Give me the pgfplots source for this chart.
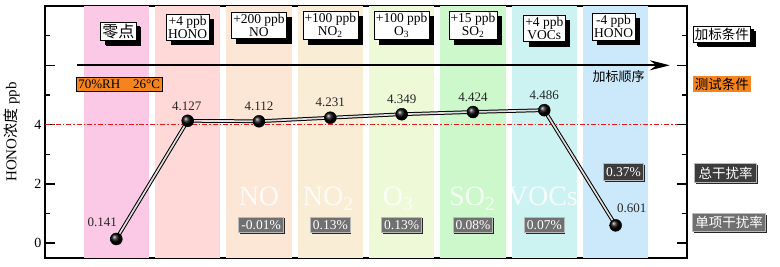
\documentclass[border=0pt]{standalone}
\usepackage{fontspec}
\setmainfont{Liberation Serif}
\newfontfamily\cjk{Noto Sans CJK SC}
\usepackage{pgfplots}
\pgfplotsset{compat=1.18}
\usepackage{pgfplotstable}
\usetikzlibrary{shadows,arrows.meta}

\definecolor{b0}{HTML}{FBC9E5}
\definecolor{b1}{HTML}{FFD8D8}
\definecolor{b2}{HTML}{FCE6D6}
\definecolor{b3}{HTML}{FAEDD5}
\definecolor{b4}{HTML}{EDF9D7}
\definecolor{b5}{HTML}{CCF8CC}
\definecolor{b6}{HTML}{CCF2F2}
\definecolor{b7}{HTML}{CCE9FC}
\definecolor{redl}{HTML}{E31A1C}
\definecolor{orng}{HTML}{F5841F}
\definecolor{gbox}{HTML}{707070}
\definecolor{dbox}{HTML}{3C3C3C}
\definecolor{vtxt}{HTML}{262626}

\pgfplotstableread{
x y dx dy lab
0 0.141 -14 17 0.141
1 4.127 -1 15 4.127
2 4.112 0 15 4.112
3 4.231 0 15 4.231
4 4.349 0 15 4.349
5 4.424 0 15 4.424
6 4.486 0 15 4.486
7 0.601 16 17 0.601
}\hono

\tikzset{
  topbox/.style={draw=black, line width=0.5pt, fill=white, align=center, inner xsep=1.8pt, inner ysep=2pt,
    font=\fontsize{13.5}{13}\selectfont,
    drop shadow={shadow xshift=5pt, shadow yshift=-5pt, fill=black, opacity=1}},
  greybox/.style={fill=gbox, draw=gray!55, line width=1pt, text=white, inner xsep=2.5pt, inner ysep=3pt,
    font=\fontsize{13.5}{13.5}\selectfont,
    drop shadow={shadow xshift=1.2pt, shadow yshift=-1.2pt, fill=black!85, opacity=1}},
  bigw/.style={font=\fontsize{28}{28}\selectfont, text=white, opacity=0.8, anchor=base},
}

\begin{document}
\begin{tikzpicture}
\begin{axis}[
  scale only axis, width=642pt, height=252pt,
  xmin=-1, xmax=8, ymin=-0.5, ymax=8,
  clip=false,
  axis line style={line width=1.4pt},
  xtick={0,...,7}, xticklabels={}, xtick pos=bottom,
  ytick={0,2,4,6}, yticklabels={0,2,4,{}}, ytick pos=both, yticklabel pos=left,
  minor ytick={1,3,5,7},
  tick align=inside,
  major tick length=10pt, minor tick length=5pt,
  every tick/.style={black, line width=1.4pt},
  tick label style={font=\fontsize{14}{14}\selectfont},
  ylabel={HONO{\cjk 浓度} ppb},
  ylabel style={font=\fontsize{15}{15}\selectfont, at={(rel axis cs:-0.052,0.5)}, anchor=center},
]
% background bands
\addplot[fill=b0, draw=none, forget plot] coordinates {(-0.46,-0.5) (0.46,-0.5) (0.46,8) (-0.46,8)} -- cycle;
\addplot[fill=b1, draw=none, forget plot] coordinates {(0.54,-0.5) (1.46,-0.5) (1.46,8) (0.54,8)} -- cycle;
\addplot[fill=b2, draw=none, forget plot] coordinates {(1.54,-0.5) (2.46,-0.5) (2.46,8) (1.54,8)} -- cycle;
\addplot[fill=b3, draw=none, forget plot] coordinates {(2.54,-0.5) (3.46,-0.5) (3.46,8) (2.54,8)} -- cycle;
\addplot[fill=b4, draw=none, forget plot] coordinates {(3.54,-0.5) (4.46,-0.5) (4.46,8) (3.54,8)} -- cycle;
\addplot[fill=b5, draw=none, forget plot] coordinates {(4.54,-0.5) (5.46,-0.5) (5.46,8) (4.54,8)} -- cycle;
\addplot[fill=b6, draw=none, forget plot] coordinates {(5.54,-0.5) (6.46,-0.5) (6.46,8) (5.54,8)} -- cycle;
\addplot[fill=b7, draw=none, forget plot] coordinates {(6.54,-0.5) (7.46,-0.5) (7.46,8) (6.54,8)} -- cycle;

% big white labels
\node[bigw] at (axis cs:2,1.26) {NO};
\node[bigw] at (axis cs:2.97,1.26) {NO\textsubscript{2}};
\node[bigw] at (axis cs:3.95,1.26) {O\textsubscript{3}};
\node[bigw] at (axis cs:4.99,1.26) {SO\textsubscript{2}};
\node[bigw] at (axis cs:5.98,1.26) {VOCs};

% reference line at 4
\addplot[redl, line width=1pt, dash pattern=on 5pt off 2pt on 1.5pt off 2pt, forget plot] coordinates {(-1,4) (7.86,4)};

% arrow
\addplot[black, line width=1.7pt, -{Stealth[length=20pt,width=10pt]}, forget plot] coordinates {(-0.546,6) (7.76,6)};
\node[font=\cjk\fontsize{13}{13}\selectfont] at (axis cs:7.04,5.63) {加标顺序};

% data line
\addplot[black, line width=1pt, double=white!75!gray, double distance=1.7pt] table[x=x,y=y] {\hono};
\addplot[only marks, mark=ball, mark size=6pt, ball color=black,
  nodes near coords, point meta=explicit symbolic,
  visualization depends on={\thisrow{dx} \as \myDX},
  visualization depends on={\thisrow{dy} \as \myDY},
  every node near coord/.append style={anchor=center, xshift=\myDX pt, yshift=\myDY pt,
    text=vtxt, font=\fontsize{13}{13}\selectfont}]
  table[x=x,y=y,meta=lab] {\hono};

% top boxes
\node[topbox, font=\cjk\fontsize{16}{16}\selectfont, drop shadow={shadow xshift=4pt, shadow yshift=-4pt, fill=black, opacity=1}] at (axis cs:0.03,7.15) {零点};
\node[topbox] at (axis cs:1,7.29) {+4 ppb\\HONO};
\node[topbox] at (axis cs:2,7.35) {+200 ppb\\NO};
\node[topbox] at (axis cs:3,7.35) {+100 ppb\\NO\textsubscript{2}};
\node[topbox] at (axis cs:4,7.35) {+100 ppb\\O\textsubscript{3}};
\node[topbox] at (axis cs:5,7.35) {+15 ppb\\SO\textsubscript{2}};
\node[topbox] at (axis cs:6,7.25) {+4 ppb\\VOCs};
\node[topbox] at (axis cs:6.97,7.3) {-4 ppb\\HONO};

% test condition
\node[fill=orng, draw=black, line width=0.4pt, inner sep=2.5pt, font=\fontsize{13}{13}\selectfont]
  at (axis cs:0.04,5.36) {70\%RH\quad 26°C};

% interference boxes
\node[greybox] at (axis cs:2.03,0.62) {-0.01\%};
\node[greybox] at (axis cs:3.0,0.62) {0.13\%};
\node[greybox] at (axis cs:4.0,0.62) {0.13\%};
\node[greybox] at (axis cs:5.0,0.62) {0.08\%};
\node[greybox] at (axis cs:6.0,0.62) {0.07\%};
\node[greybox, fill=dbox, inner ysep=4pt] at (axis cs:7.11,2.39) {0.37\%};

% right-hand legend boxes
\node[topbox, font=\cjk\fontsize{13.5}{13.5}\selectfont, drop shadow={shadow xshift=3.5pt, shadow yshift=-3.5pt, fill=black, opacity=1}] at (axis cs:8.49,7.05) {加标条件};
\node[fill=orng, inner sep=2pt, font=\cjk\fontsize{13.5}{13.5}\selectfont] at (axis cs:8.49,5.37) {测试条件};
\node[greybox, fill=dbox, inner xsep=4pt, inner ysep=3pt, font=\cjk\fontsize{13.5}{13.5}\selectfont] at (axis cs:8.54,2.36) {总干扰率};
\node[greybox, inner xsep=3pt, inner ysep=3pt, font=\cjk\fontsize{13.5}{13.5}\selectfont] at (axis cs:8.59,0.69) {单项干扰率};

% bounding box matching reference margins
\path (rel axis cs:-0.0701,-0.0357) rectangle (rel axis cs:1.1449,1.0238);
\end{axis}
\end{tikzpicture}
\end{document}
